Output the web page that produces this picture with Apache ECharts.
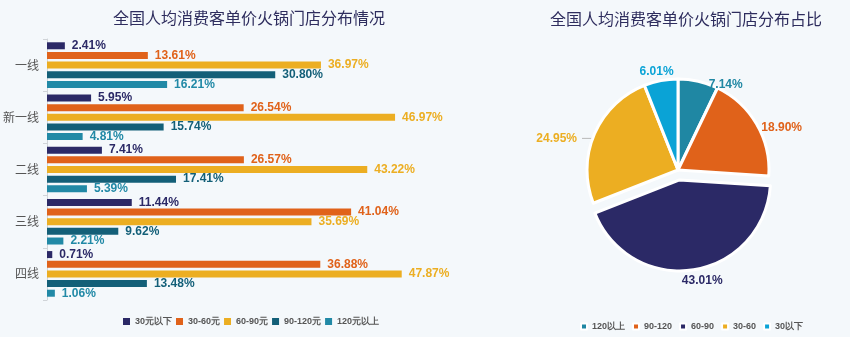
<!DOCTYPE html>
<html>
<head>
<meta charset="utf-8">
<script src="https://cdn.jsdelivr.net/npm/echarts@6/dist/echarts.min.js"></script>
<style>
  html, body { margin: 0; padding: 0; background: #f4f8fb; }
  #chart { width: 850px; height: 337px; }
</style>
</head>
<body>
<div id="chart"></div>
<script>
// City tiers and price bands for the hotpot store distribution
const tiers = ['一线', '新一线', '二线', '三线', '四线'];
const bandNames = ['30元以下', '30-60元', '60-90元', '90-120元', '120元以上'];
const bandColors = ['#2b2966', '#e0621a', '#ecae22', '#135f78', '#2189a6'];

// Share (%) of stores in each price band, per tier
const under30 = [2.41, 5.95, 7.41, 11.44, 0.71];
const from30to60 = [13.61, 26.54, 26.57, 41.04, 36.88];
const from60to90 = [36.97, 46.97, 43.22, 35.69, 47.87];
const from90to120 = [30.80, 15.74, 17.41, 9.62, 13.48];
const over120 = [16.21, 4.81, 5.39, 2.21, 1.06];
const tierSeries = [under30, from30to60, from60to90, from90to120, over120];

// Nationwide share by price band
const pieNames = ['120以上', '90-120', '60-90', '30-60', '30以下'];
const pieValues = [7.14, 18.90, 43.01, 24.95, 6.01];
const pieColors = ['#1f87a3', '#e0621a', '#2b2966', '#ecae22', '#0aa3d6'];

// Small nudges that pull the pie labels in towards their slices
const pieLabelNudge = [[3, 5], [-4, 5], [-19, 9], [5, 7], [20, -7]];

const numFont = '"Liberation Sans Narrow", "Liberation Sans", sans-serif';
const cjkFont = '"Noto Sans CJK SC", "Noto Sans", sans-serif';

const chart = echarts.init(document.getElementById('chart'));

const barSeries = tierSeries.map((vals, i) => ({
  name: bandNames[i],
  type: 'bar',
  data: vals,
  barWidth: 7,
  barGap: '38%',
  itemStyle: { color: bandColors[i] },
  label: {
    show: true,
    position: 'right',
    distance: 7,
    formatter: p => p.value.toFixed(2) + '%',
    color: bandColors[i],
    fontFamily: numFont,
    fontWeight: 'bold',
    fontSize: 12
  }
}));

const legendText = {
  fontFamily: numFont, fontSize: 9, fontWeight: 'bold', color: '#555'
};

chart.setOption({
  backgroundColor: '#f4f8fb',
  animation: false,
  title: [
    {
      text: '全国人均消费客单价火锅门店分布情况',
      left: 244, top: 5, textAlign: 'center',
      textStyle: { fontFamily: cjkFont, fontSize: 16, fontWeight: 'normal', color: '#2e2d5e' }
    },
    {
      text: '全国人均消费客单价火锅门店分布占比',
      left: 681, top: 6, textAlign: 'center',
      textStyle: { fontFamily: cjkFont, fontSize: 16, fontWeight: 'normal', color: '#2e2d5e' }
    }
  ],
  legend: [
    {
      data: bandNames,
      left: 118, top: 312, width: 320,
      itemWidth: 7, itemHeight: 7, itemGap: 4,
      icon: 'rect',
      textStyle: legendText
    },
    {
      data: pieNames,
      left: 575, top: 317, width: 260,
      itemWidth: 6, itemHeight: 6, itemGap: 7,
      icon: 'rect',
      textStyle: legendText
    }
  ],
  grid: { left: 47, top: 39, width: 370.5, height: 261, containLabel: false },
  xAxis: {
    type: 'value', min: 0, max: 50,
    show: false
  },
  yAxis: {
    type: 'category',
    data: tiers,
    inverse: true,
    axisLine: { show: true, lineStyle: { color: '#d0d4d8' } },
    axisTick: { show: true, length: 4, lineStyle: { color: '#d0d4d8' } },
    axisLabel: { fontFamily: cjkFont, fontSize: 12, color: '#555', margin: 8 }
  },
  series: barSeries.concat([{
    name: 'pie',
    type: 'pie',
    center: [678, 170],
    radius: [0, 91],
    startAngle: 90,
    clockwise: true,
    selectedMode: 'multiple',
    selectedOffset: 10,
    itemStyle: { borderColor: '#ffffff', borderWidth: 3 },
    label: {
      show: true,
      position: 'outside',
      formatter: p => p.value.toFixed(2) + '%',
      fontFamily: numFont,
      fontWeight: 'bold',
      fontSize: 12
    },
    labelLine: { show: false, length: 2, length2: 2, lineStyle: { color: '#b8b8b8' } },
    labelLayout: p => {
      const n = pieLabelNudge[p.dataIndex];
      const out = { dx: n[0], dy: n[1] };
      if (p.labelLinePoints) {
        out.labelLinePoints = p.labelLinePoints.map(pt => [pt[0] + n[0], pt[1] + n[1]]);
      }
      return out;
    },
    data: pieValues.map((v, i) => ({
      name: pieNames[i],
      value: v,
      selected: i === 2,
      itemStyle: { color: pieColors[i] },
      label: { color: pieColors[i] },
      labelLine: i === 3 ? { show: true, length: 6, length2: 12 } : { show: false }
    }))
  }])
});
</script>
</body>
</html>
